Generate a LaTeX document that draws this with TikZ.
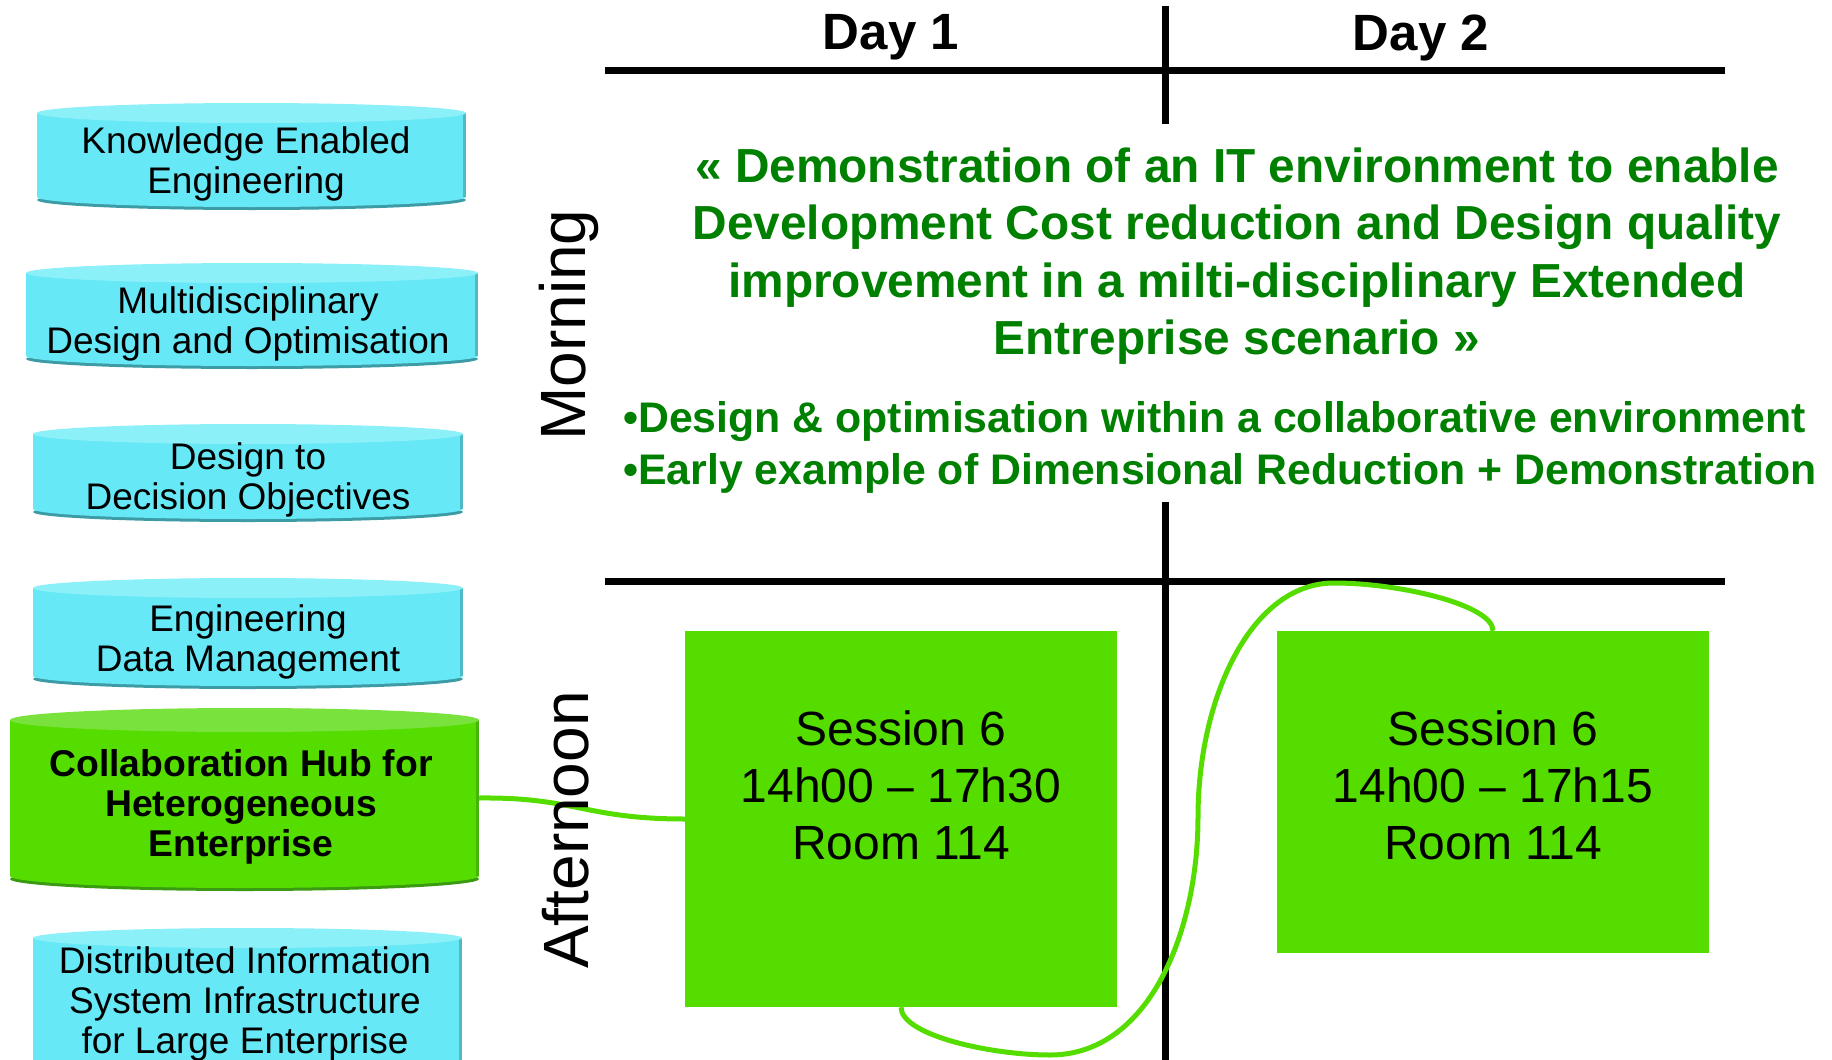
\documentclass[tikz,border=0pt]{standalone}
\usepackage{fontspec}
\setmainfont{Liberation Sans}
\definecolor{cyanbody}{HTML}{66E8F6}
\definecolor{cyantop}{HTML}{8CF0F9}
\definecolor{cyanedge}{HTML}{3C9BA4}
\definecolor{grnbody}{HTML}{55DD00}
\definecolor{grntop}{HTML}{7AE23C}
\definecolor{grnedge}{HTML}{3A9A12}
\definecolor{titlegreen}{HTML}{008000}
\newcommand\mycyl[7]{%
  \fill[#6edge] ({#2},{#5+3}) ellipse[x radius=#3pt, y radius=#7pt];
  \fill[#6body] ({#2},{#5}) ellipse[x radius=#3pt, y radius=#7pt];
  \fill[#6body] ({#2-#3},{#4}) rectangle ({#2+#3},{#5});
  \fill[#6edge!60!#6body] ({#2+#3-3},{#4}) rectangle ({#2+#3},{#5});
  \fill[#6top] ({#2},{#4}) ellipse[x radius=#3pt, y radius=#7pt];
  \node[inner sep=0pt, minimum width={2*#3pt}, minimum height={(#5-#4)*1pt}] (#1) at ({#2},{(#4+#5)/2}) {};
}
\begin{document}
\begin{tikzpicture}[x=1pt,y=-1pt,
  rule/.style={line width=7pt, black},
  conn/.style={line width=5pt, grnbody},
  sessbox/.style={fill=grnbody, inner sep=0pt, minimum width=432pt},
  cyltext/.style={align=center, font=\fontsize{37}{40}\selectfont, inner sep=0pt},
  hubtext/.style={align=center, font=\fontsize{37.3}{40}\selectfont\bfseries, inner sep=0pt},
  sesstext/.style={align=center, font=\fontsize{48}{57}\selectfont, inner sep=0pt},
  daytext/.style={font=\fontsize{51}{60}\selectfont\bfseries, inner sep=0pt},
  parttext/.style={font=\fontsize{64}{70}\selectfont, rotate=90, inner sep=0pt},
  titletext/.style={align=center, text=titlegreen, font=\fontsize{47.8}{57.5}\selectfont\bfseries, inner sep=0pt},
  bullettext/.style={align=left, text=titlegreen, font=\fontsize{42.8}{52}\selectfont\bfseries, inner sep=0pt, anchor=west}]
\useasboundingbox (0,0) rectangle (1832,1060);
\begin{scope}
\clip (0,0) rectangle (1832,1060);
% cylinders
\mycyl{kee}{251.5}{214.5}{113}{197}{cyan}{10}
\mycyl{mdo}{252}{226}{273}{356}{cyan}{10}
\mycyl{ddo}{248}{215}{434}{509}{cyan}{10}
\mycyl{edm}{248}{215}{588}{676}{cyan}{10}
\mycyl{hub}{244.5}{234.5}{720}{876}{grn}{12}
\mycyl{dis}{247.5}{214.5}{938}{1090}{cyan}{10}
\node[cyltext] at (246,163.5) {Knowledge Enabled\\Engineering};
\node[cyltext] at (248,323.5) {Multidisciplinary\\Design and Optimisation};
\node[cyltext] at (248,479.5) {Design to\\Decision Objectives};
\node[cyltext] at (248,641.5) {Engineering\\Data Management};
\node[hubtext] at (241,806.5) {Collaboration Hub for\\Heterogeneous\\Enterprise};
\node[cyltext] at (245,1004) {Distributed Information\\System Infrastructure\\for Large Enterprise};
% grid lines
\coordinate (hl1) at (605,70);
\coordinate (hr1) at (1725,70);
\coordinate (hl2) at (605,581);
\coordinate (hr2) at (1725,581);
\coordinate (vt1) at (1165,6);
\coordinate (vb1) at (1165,124);
\coordinate (vt2) at (1165,502);
\coordinate (vb2) at (1165,1060);
\draw[rule] (hl1) -- (hr1);
\draw[rule] (hl2) -- (hr2);
\draw[rule] (vt1) -- (vb1);
\draw[rule] (vt2) -- (vb2);
% day headers
\node[daytext] (d1) at (891,37.5) {Day 1};
\node[daytext] (d2) at (1421,37.5) {Day 2};
% session boxes
\node[sessbox, minimum height=376pt] (b1) at (901,819) {};
\node[sessbox, minimum height=322pt] (b2) at (1493,792) {};
\node[sesstext] at (901,785) {Session 6\\14h00 – 17h30\\Room 114};
\node[sesstext] at (1493,785) {Session 6\\14h00 – 17h15\\Room 114};
% connectors
\draw[conn] (hub.east) .. controls (575,797) and (585,819) .. (b1.west);
\draw[conn] (b1.south) .. controls (901,1035) and (990,1055) .. (1050,1055)
  .. controls (1150,1055) and (1198,930) .. (1198,817)
  .. controls (1198,700) and (1250,583) .. (1334,583)
  .. controls (1400,583) and (1493,605) .. (b2.north);
% morning / afternoon
\node[parttext] (mor) at (569,325) {Morning};
\node[parttext] (aft) at (566,830) {Afternoon};
% title and bullets
\node[titletext] (title) at (1237,256) {« Demonstration of an IT environment to enable\\Development Cost reduction and Design quality\\improvement in a milti-disciplinary Extended\\Entreprise scenario »};
\node[bullettext] (bul1) at (623,421.5) {•Design \& optimisation within a collaborative environment};
\node[bullettext] (bul2) at (623,473.5) {•Early example of Dimensional Reduction + Demonstration};
\end{scope}
\end{tikzpicture}
\end{document}
